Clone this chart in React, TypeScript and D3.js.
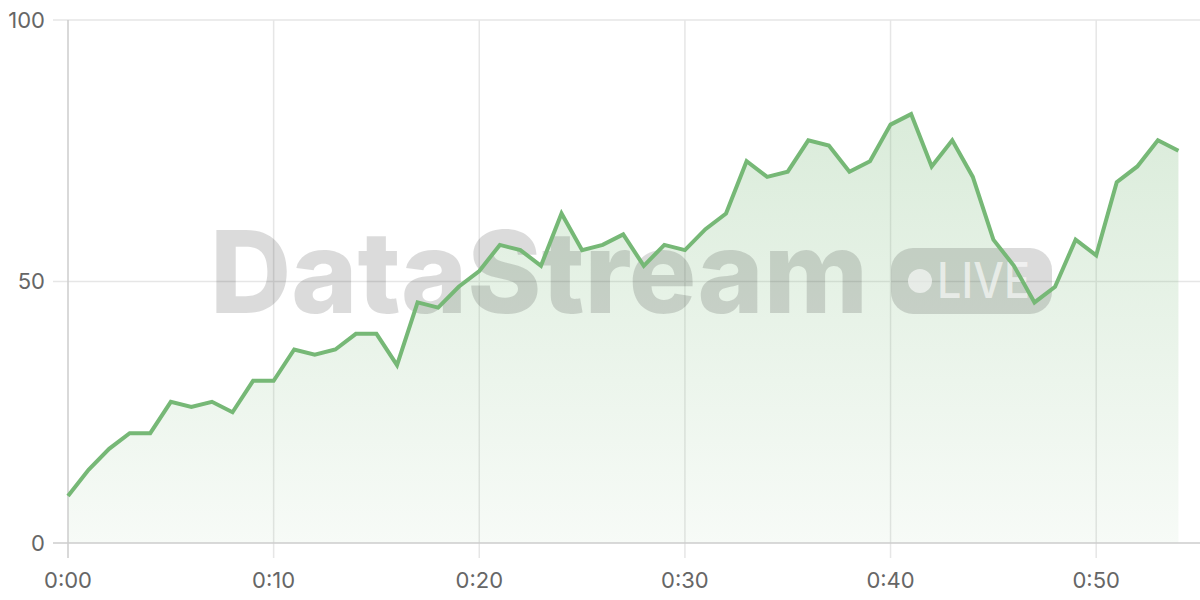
import React, { useEffect, useRef } from 'react';
import * as d3 from 'd3';

// minutes since start
const minutes = d3.range(0, 55);
const values = [
  9, 14, 18, 21, 21, 27, 26, 27, 25, 31,
  31, 37, 36, 37, 40, 40, 34, 46, 45, 49,
  52, 57, 56, 53, 63, 56, 57, 59, 53, 57,
  56, 60, 63, 73, 70, 71, 77, 76, 71, 73,
  80, 82, 72, 77, 70, 58, 53, 46, 49, 58,
  55, 69, 72, 77, 75,
];
const xTicks = [0, 10, 20, 30, 40, 50];
const yTicks = [0, 50, 100];

const fmtTime = (m: number) => `${Math.floor(m / 60)}:${String(m % 60).padStart(2, '0')}`;

const App: React.FC = () => {
  const svgRef = useRef<SVGSVGElement | null>(null);

  useEffect(() => {
    const width = 1200;
    const height = 600;
    const margin = { top: 20, right: 1, bottom: 57, left: 68 };

    const svg = d3.select(svgRef.current);
    svg.selectAll('*').remove();

    const x = d3.scaleLinear().domain([0, 55]).range([margin.left, width - margin.right]);
    const y = d3.scaleLinear().domain([0, 100]).range([height - margin.bottom, margin.top]);

    const data = minutes.map((m, i) => ({ m, v: values[i] }));

    const defs = svg.append('defs');
    const grad = defs.append('linearGradient')
      .attr('id', 'areaFill')
      .attr('gradientUnits', 'userSpaceOnUse')
      .attr('x1', 0).attr('x2', 0)
      .attr('y1', y(100)).attr('y2', y(0));
    grad.append('stop').attr('offset', '0%').attr('stop-color', '#78b878').attr('stop-opacity', 0.32);
    grad.append('stop').attr('offset', '100%').attr('stop-color', '#78b878').attr('stop-opacity', 0.06);

    // grid
    svg.append('g')
      .selectAll('line')
      .data(yTicks.filter(t => t > 0))
      .join('line')
      .attr('x1', margin.left - 15)
      .attr('x2', width)
      .attr('y1', d => y(d))
      .attr('y2', d => y(d))
      .attr('stroke', '#e6e6e6')
      .attr('stroke-width', 1.5);

    svg.append('g')
      .selectAll('line')
      .data(xTicks.filter(t => t > 0))
      .join('line')
      .attr('x1', d => x(d))
      .attr('x2', d => x(d))
      .attr('y1', y(100))
      .attr('y2', y(0) + 15)
      .attr('stroke', '#e6e6e6')
      .attr('stroke-width', 1.5);

    // area
    const area = d3.area<{ m: number; v: number }>()
      .x(d => x(d.m))
      .y0(y(0))
      .y1(d => y(d.v));
    svg.append('path')
      .datum(data)
      .attr('d', area)
      .attr('fill', 'url(#areaFill)');

    // watermark
    const wm = svg.append('g').attr('pointer-events', 'none');
    wm.append('text')
      .attr('x', 210)
      .attr('y', 313)
      .attr('textLength', 658)
      .attr('lengthAdjust', 'spacingAndGlyphs')
      .attr('font-family', 'Inter, "Open Sans", sans-serif')
      .attr('font-weight', 800)
      .attr('font-size', 114)
      .attr('fill', 'rgba(0,0,0,0.14)')
      .text('DataStream');
    wm.append('rect')
      .attr('x', 891)
      .attr('y', 248)
      .attr('width', 161)
      .attr('height', 66)
      .attr('rx', 22)
      .attr('fill', 'rgba(0,0,0,0.14)');
    wm.append('circle')
      .attr('cx', 920)
      .attr('cy', 281)
      .attr('r', 12)
      .attr('fill', 'rgba(255,255,255,0.6)');
    wm.append('text')
      .attr('x', 937)
      .attr('y', 298)
      .attr('textLength', 93)
      .attr('lengthAdjust', 'spacingAndGlyphs')
      .attr('font-family', 'Inter, "Open Sans", sans-serif')
      .attr('font-weight', 500)
      .attr('font-size', 49)
      .attr('fill', 'rgba(255,255,255,0.6)')
      .text('LIVE');

    // axes lines
    svg.append('line')
      .attr('x1', margin.left).attr('x2', margin.left)
      .attr('y1', y(100)).attr('y2', y(0) + 15)
      .attr('stroke', '#cccccc').attr('stroke-width', 1.5);
    svg.append('line')
      .attr('x1', margin.left - 15).attr('x2', width)
      .attr('y1', y(0)).attr('y2', y(0))
      .attr('stroke', '#cccccc').attr('stroke-width', 1.5);

    // line
    const line = d3.line<{ m: number; v: number }>()
      .x(d => x(d.m))
      .y(d => y(d.v));
    svg.append('path')
      .datum(data)
      .attr('d', line)
      .attr('fill', 'none')
      .attr('stroke', '#76b876')
      .attr('stroke-width', 4)
      .attr('stroke-linejoin', 'miter');

    // tick labels
    svg.append('g')
      .selectAll('text')
      .data(yTicks)
      .join('text')
      .attr('x', 45)
      .attr('y', d => y(d))
      .attr('dy', '0.35em')
      .attr('text-anchor', 'end')
      .attr('font-family', 'Inter, "Open Sans", sans-serif')
      .attr('font-size', 22)
      .attr('fill', '#666')
      .text(d => String(d));

    svg.append('g')
      .selectAll('text')
      .data(xTicks)
      .join('text')
      .attr('x', d => x(d))
      .attr('y', 588)
      .attr('text-anchor', 'middle')
      .attr('font-family', 'Inter, "Open Sans", sans-serif')
      .attr('font-size', 22)
      .attr('fill', '#666')
      .text(d => fmtTime(d));
  }, []);

  return (
    <div style={{ position: 'fixed', left: 0, top: 0, width: 1200, height: 600, background: '#fff' }}>
      <svg ref={svgRef} width={1200} height={600} style={{ display: 'block' }} />
    </div>
  );
};

export default App;
